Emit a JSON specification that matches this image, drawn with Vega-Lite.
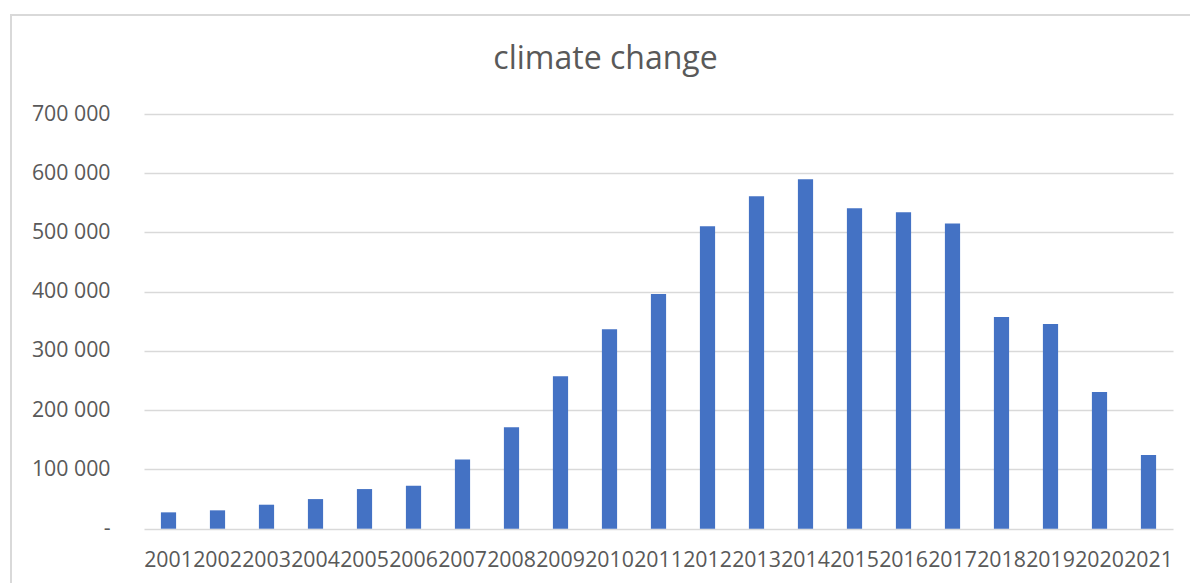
{
  "$schema": "https://vega.github.io/schema/vega-lite/v6.json",
  "width": 1179,
  "height": 568,
  "autosize": {"type": "none"},
  "padding": {"left": 11, "top": 15, "right": 0, "bottom": 0},
  "background": "#ffffff",
  "title": {
    "text": "climate change",
    "font": "Open Sans",
    "fontSize": 32,
    "fontWeight": "normal",
    "color": "#595959",
    "anchor": "middle",
    "frame": "group",
    "baseline": "alphabetic",
    "offset": -86,
    "dx": 5
  },
  "data": {
    "values": [
      {"year": "2001", "value": 27600},
      {"year": "2002", "value": 31000},
      {"year": "2003", "value": 40500},
      {"year": "2004", "value": 50000},
      {"year": "2005", "value": 66900},
      {"year": "2006", "value": 72500},
      {"year": "2007", "value": 117000},
      {"year": "2008", "value": 171400},
      {"year": "2009", "value": 257400},
      {"year": "2010", "value": 336600},
      {"year": "2011", "value": 396100},
      {"year": "2012", "value": 510700},
      {"year": "2013", "value": 561300},
      {"year": "2014", "value": 589900},
      {"year": "2015", "value": 541000},
      {"year": "2016", "value": 534300},
      {"year": "2017", "value": 515300},
      {"year": "2018", "value": 357300},
      {"year": "2019", "value": 345500},
      {"year": "2020", "value": 230900},
      {"year": "2021", "value": 124200}
    ]
  },
  "mark": {"type": "bar", "color": "#4472c4"},
  "encoding": {
    "x": {
      "field": "year",
      "type": "ordinal",
      "sort": null,
      "scale": {"range": [133, 1162], "paddingInner": 0.69, "paddingOuter": 0.345},
      "axis": {
        "title": null,
        "orient": "bottom",
        "offset": -54.3,
        "domain": false,
        "ticks": false,
        "tickSize": 0,
        "grid": false,
        "labelAngle": 0,
        "labelOverlap": false,
        "labelBound": false,
        "labelFlush": false,
        "labelFont": "Open Sans",
        "labelFontSize": 21.3,
        "labelColor": "#595959",
        "labelBaseline": "alphabetic",
        "labelPadding": 38
      }
    },
    "y": {
      "field": "value",
      "type": "quantitative",
      "scale": {"domain": [0, 700000], "range": [513.7, 99], "nice": false, "zero": true},
      "axis": {
        "title": null,
        "orient": "left",
        "offset": -99,
        "values": [0, 100000, 200000, 300000, 400000, 500000, 600000, 700000],
        "labelExpr": "datum.value === 0 ? '-  ' : replace(format(datum.value, ','), ',', ' ')",
        "domain": false,
        "ticks": false,
        "tickSize": 0,
        "labelPadding": 0,
        "labelFont": "Open Sans",
        "labelFontSize": 21.3,
        "labelColor": "#595959",
        "labelAlign": "right",
        "labelBaseline": "middle",
        "grid": true,
        "gridColor": "#d9d9d9",
        "gridWidth": 1.5
      }
    }
  },
  "config": {
    "view": {
      "stroke": "#d9d9d9",
      "strokeWidth": 2,
      "strokeDash": [1179, 1747, 568]
    }
  }
}
